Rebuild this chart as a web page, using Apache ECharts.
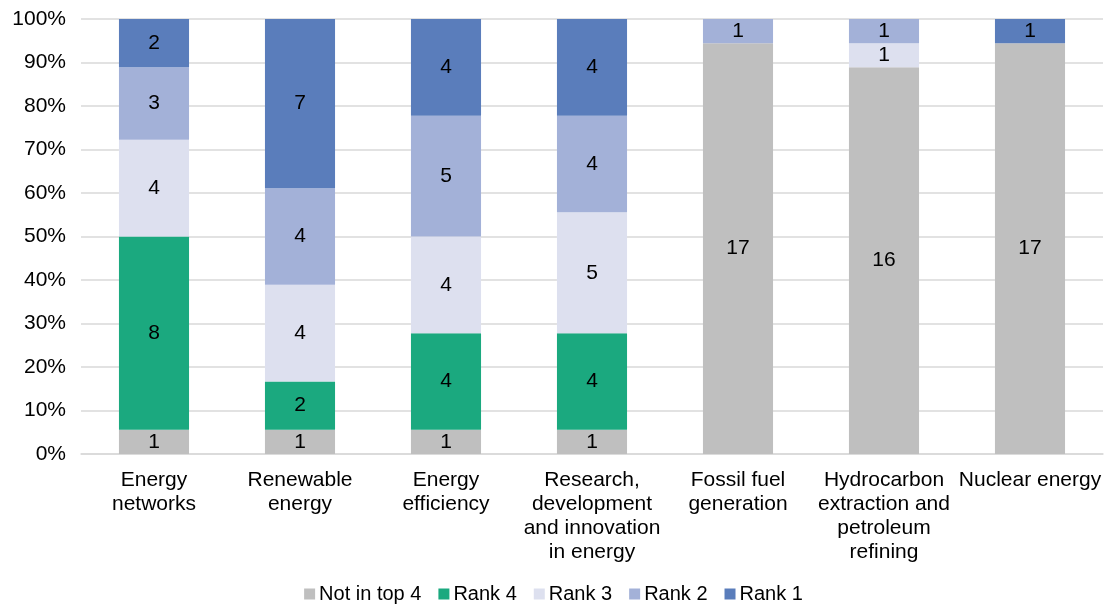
<!DOCTYPE html>
<html>
<head>
<meta charset="utf-8">
<script src="https://cdn.jsdelivr.net/npm/echarts@6/dist/echarts.min.js"></script>
<style>
  html, body { margin: 0; padding: 0; background: #fff; }
  #chart { width: 1107px; height: 609px; }
</style>
</head>
<body>
<div id="chart"></div>
<script>
// categories (x axis)
var categories = ['Energy\nnetworks', 'Renewable\nenergy', 'Energy\nefficiency',
  'Research,\ndevelopment\nand innovation\nin energy', 'Fossil fuel\ngeneration',
  'Hydrocarbon\nextraction and\npetroleum\nrefining', 'Nuclear energy'];

// counts per rank (stacked bottom to top)
var notTop4 = [1, 1, 1, 1, 17, 16, 17];
var rank4 = [8, 2, 4, 4, 0, 0, 0];
var rank3 = [4, 4, 4, 5, 0, 1, 0];
var rank2 = [3, 4, 5, 4, 1, 1, 0];
var rank1 = [2, 7, 4, 4, 0, 0, 1];

var seriesNames = ['Not in top 4', 'Rank 4', 'Rank 3', 'Rank 2', 'Rank 1'];
var colors = ['#BFBFBF', '#1BA97F', '#DDE0EF', '#A3B1D8', '#5A7DBB'];
var counts = [notTop4, rank4, rank3, rank2, rank1];

var totals = categories.map(function (c, i) {
  return counts.reduce(function (s, arr) { return s + arr[i]; }, 0);
});

var font = 'Liberation Sans, Arial, sans-serif';
var fs = 21;

var chart = echarts.init(document.getElementById('chart'));

var series = counts.map(function (arr, k) {
  return {
    name: seriesNames[k],
    type: 'bar',
    stack: 'total',
    barWidth: '48%',
    itemStyle: { color: colors[k] },
    label: {
      show: true,
      position: 'inside',
      color: '#000',
      fontSize: fs,
      fontFamily: font,
      formatter: function (p) { return p.data.count > 0 ? p.data.count : ''; }
    },
    data: arr.map(function (v, i) {
      return { value: v / totals[i] * 100, count: v };
    })
  };
});

var option = {
  animation: false,
  grid: { left: 81, right: 4, top: 19, bottom: 155, containLabel: false },
  legend: {
    bottom: 0,
    left: 'center',
    itemWidth: 11,
    itemHeight: 11,
    itemGap: 17,
    icon: 'rect',
    textStyle: { fontSize: 20, fontFamily: font, color: '#000', padding: [0, 0, 0, -1] },
    data: seriesNames
  },
  xAxis: {
    type: 'category',
    data: categories,
    axisLine: { lineStyle: { color: '#D9D9D9', width: 1.5 } },
    axisTick: { show: false },
    axisLabel: {
      interval: 0,
      margin: 14,
      fontSize: fs,
      lineHeight: 24,
      fontFamily: font,
      color: '#000'
    }
  },
  yAxis: {
    type: 'value',
    min: 0,
    max: 100,
    interval: 10,
    axisLabel: {
      formatter: '{value}%',
      fontSize: fs,
      fontFamily: font,
      color: '#000',
      margin: 15
    },
    axisLine: { show: false },
    axisTick: { show: false },
    splitLine: { lineStyle: { color: '#D9D9D9', width: 1.5 } }
  },
  series: series
};

chart.setOption(option);
</script>
</body>
</html>
